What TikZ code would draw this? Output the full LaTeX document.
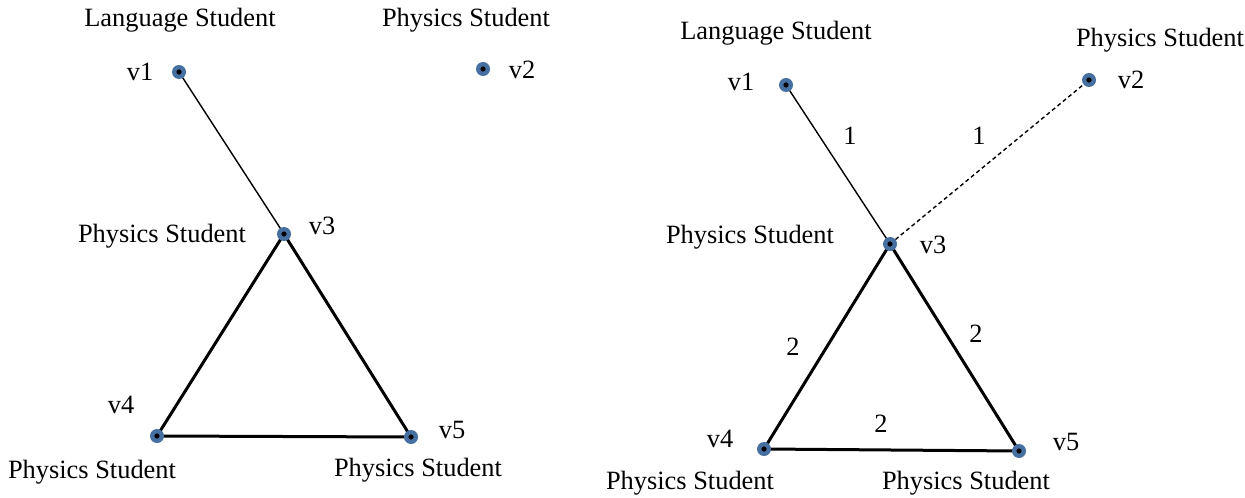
\documentclass[tikz,border=0pt]{standalone}
\usepackage{fontspec}
\setmainfont{Liberation Serif}
\usetikzlibrary{positioning}
\definecolor{vblue}{RGB}{70,112,162}
\tikzset{
  vertex/.style={circle,fill=vblue,inner sep=0pt,minimum size=7pt,
    path picture={\fill[black] (path picture bounding box.center) circle (1.3pt);}},
  lbl/.style={font=\fontsize{13.2}{15}\selectfont,inner sep=0pt},
  thinedge/.style={line width=0.7pt},
  thickedge/.style={line width=1.5pt},
  dashedge/.style={line width=0.7pt,dashed,dash pattern=on 2pt off 1.5pt}
}
\begin{document}
\begin{tikzpicture}[x=0.5pt,y=-0.5pt]
  \useasboundingbox (0,0) rectangle (1245,497);
  % left graph
  \coordinate (p1) at (179,72);
  \coordinate (p2) at (483,69);
  \coordinate (p3) at (284,234);
  \coordinate (p4) at (157,436);
  \coordinate (p5) at (411,437);
  \draw[thinedge] (p1) -- (p3);
  \draw[thickedge] (p3) -- (p4) -- (p5) -- cycle;
  \foreach \i in {1,...,5} {\node[vertex] (l\i) at (p\i) {};}
  \node[lbl] at (180,20) {Language Student};
  \node[lbl] at (140,72) {v1};
  \node[lbl] at (466,20) {Physics Student};
  \node[lbl] at (522,70) {v2};
  \node[lbl] at (162,236) {Physics Student};
  \node[lbl] at (322,226) {v3};
  \node[lbl] at (121,405) {v4};
  \node[lbl] at (92,472) {Physics Student};
  \node[lbl] at (452,430) {v5};
  \node[lbl] at (418,470) {Physics Student};

  % right graph
  \coordinate (q1) at (786,85);
  \coordinate (q2) at (1089,80);
  \coordinate (q3) at (890,244);
  \coordinate (q4) at (764,449);
  \coordinate (q5) at (1019,451);
  \draw[thinedge] (q1) -- (q3);
  \draw[dashedge] (q3) -- (q2);
  \draw[thickedge] (q3) -- (q4) -- (q5) -- cycle;
  \foreach \i in {1,...,5} {\node[vertex] (r\i) at (q\i) {};}
  \node[lbl] at (776,33) {Language Student};
  \node[lbl] at (741,82) {v1};
  \node[lbl] at (1160,40) {Physics Student};
  \node[lbl] at (1131,80) {v2};
  \node[lbl] at (850,136) {1};
  \node[lbl] at (979,136) {1};
  \node[lbl] at (750,237) {Physics Student};
  \node[lbl] at (933,245) {v3};
  \node[lbl] at (793,347) {2};
  \node[lbl] at (976,334) {2};
  \node[lbl] at (720,439) {v4};
  \node[lbl] at (881,424) {2};
  \node[lbl] at (1066,442) {v5};
  \node[lbl] at (690,483) {Physics Student};
  \node[lbl] at (966,483) {Physics Student};
\end{tikzpicture}
\end{document}
